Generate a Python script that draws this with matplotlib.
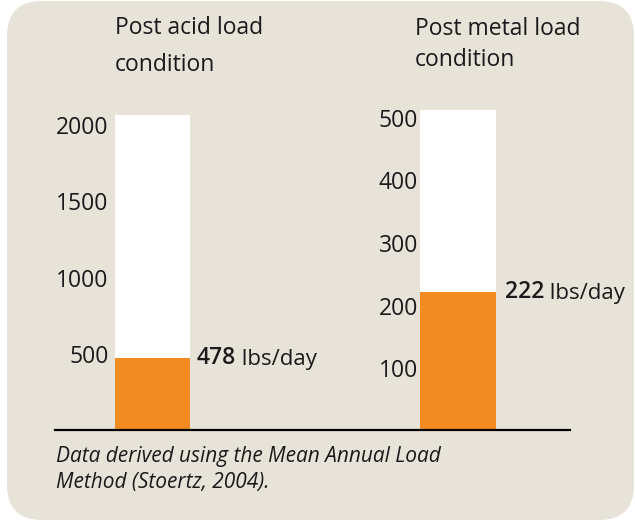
import matplotlib

matplotlib.use("Agg")
import matplotlib.pyplot as plt
from matplotlib.lines import Line2D
from matplotlib.patches import FancyBboxPatch

plt.rcParams["font.family"] = ["Open Sans", "Noto Sans", "DejaVu Sans"]

# data
titles = ["Post acid load\ncondition", "Post metal load\ncondition"]
scale_max = [2065, 512]          # top of the white column
load_values = [478, 222]         # lbs/day, orange bar
tick_values = [[500, 1000, 1500, 2000], [100, 200, 300, 400, 500]]
note = "Data derived using the Mean Annual Load\nMethod (Stoertz, 2004)."

BG = "#E8E3D9"
ORANGE = "#F28C22"
W, H = 635, 521


def fx(px):
    return px / W


def fy(py):
    return 1 - py / H


fig = plt.figure(figsize=(W / 100, H / 100), dpi=100, facecolor="white")

panel = FancyBboxPatch(
    (fx(7), fy(520)), fx(627), 519 / H,
    boxstyle="round,pad=0,rounding_size=0.055",
    transform=fig.transFigure, facecolor=BG, edgecolor="none", zorder=-1,
    mutation_aspect=W / H,
)
fig.patches.append(panel)

# pixel boxes: (left, right, top of white column)
boxes = [(115, 190, 115), (420, 496, 110)]
base_y = 431
title_x = [115, 415]
title_last_base = [71, 66]     # baseline of the last title line
title_spacing = [1.75, 1.41]
label_pad = [4.5, 1.5]
value_off = [7, 9]

for i in range(2):
    left, right, top = boxes[i]
    ax = fig.add_axes([fx(left), fy(base_y), fx(right - left), (base_y - top) / H])
    ax.set_facecolor("none")
    ax.bar(0, scale_max[i], width=1, color="white", zorder=1)
    ax.bar(0, load_values[i], width=1, color=ORANGE, zorder=2)
    ax.set_xlim(-0.5, 0.5)
    ax.set_ylim(0, scale_max[i])
    ax.set_xticks([])
    ax.set_yticks(tick_values[i])
    ax.tick_params(axis="y", length=0, pad=label_pad[i], labelsize=16.5, labelcolor="#1a1a1a")
    for s in ax.spines.values():
        s.set_visible(False)

    num = ax.annotate(
        f"{load_values[i]}", xy=(0.5, load_values[i]), xytext=(value_off[i], 0),
        textcoords="offset pixels", ha="left", va="center",
        fontsize=16.5, fontweight="semibold", color="#1a1a1a", annotation_clip=False,
    )
    ax.annotate(
        " lbs/day", xy=(1, 0), xycoords=num, ha="left", va="bottom",
        fontsize=16, color="#1a1a1a",
    )

    fig.text(fx(title_x[i]), fy(title_last_base[i]), titles[i], ha="left", va="baseline",
             fontsize=16.5, color="#1a1a1a", linespacing=title_spacing[i])

fig.add_artist(Line2D([fx(55), fx(570)], [fy(430), fy(430)], color="black", lw=1.6,
                      transform=fig.transFigure))

fig.text(fx(56), fy(488), note, ha="left", va="baseline", fontsize=15, style="italic",
         color="#1a1a1a", linespacing=1.33)

fig.savefig("out.png", dpi=100, facecolor="white")
